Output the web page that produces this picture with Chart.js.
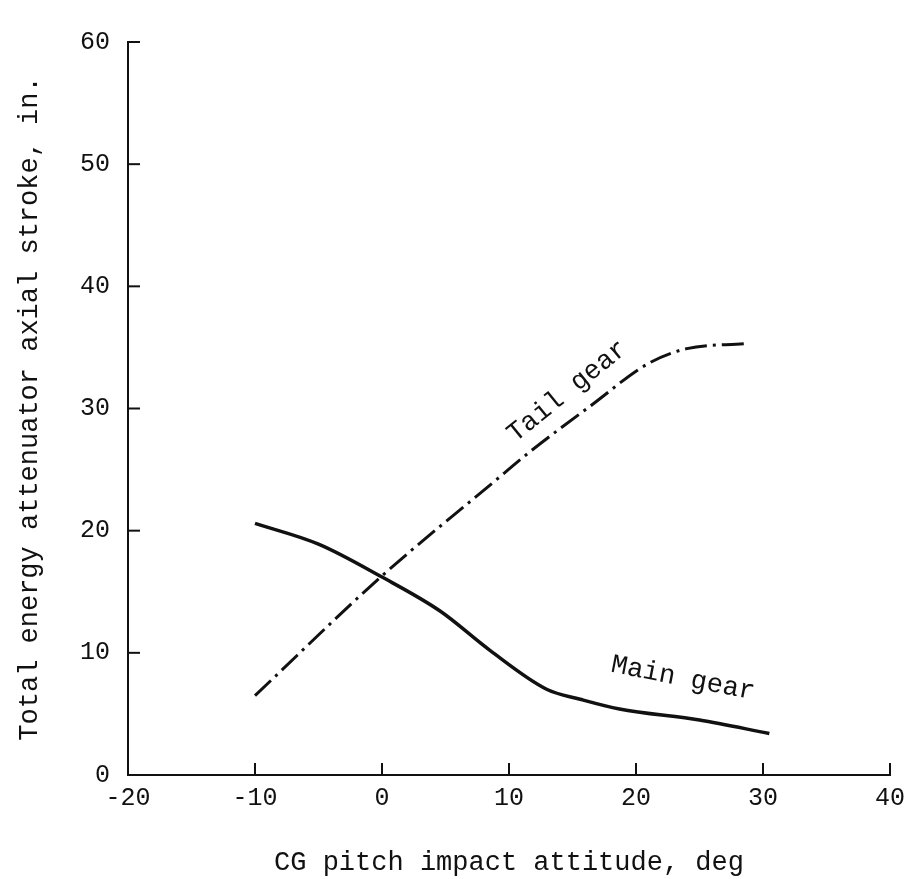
<!DOCTYPE html>
<html>
<head>
<meta charset="utf-8">
<script src="https://cdn.jsdelivr.net/npm/chart.js@4"></script>
<style>
  html, body { margin: 0; padding: 0; background: #fff; }
  #wrap { width: 909px; height: 879px; }
</style>
</head>
<body>
<div id="wrap"><canvas id="c"></canvas></div>
<script>
// values
const mainX = [-10, -5, 0, 4.6, 8.5, 13, 15.6, 18.7, 25, 30.5]
const mainY = [20.6, 18.9, 16.2, 13.4, 10.2, 7.0, 6.2, 5.4, 4.5, 3.4]
const tailX = [-10, 0, 8.7, 11.7, 16.4, 21, 24, 28.6]
const tailY = [6.5, 16.3, 23.9, 26.5, 30.2, 33.7, 34.9, 35.3]
const xTicks = [-20, -10, 0, 10, 20, 30, 40]
const yTicks = [0, 10, 20, 30, 40, 50, 60]

const mono = 'Liberation Mono'
const ink = '#111'

// inward tick marks and curve labels
const extras = {
    id: 'extras',
    afterDatasetsDraw: (chart) => {
        const {ctx, scales: {x, y}} = chart
        ctx.save()
        ctx.strokeStyle = ink
        ctx.lineWidth = 2
        xTicks.forEach(v => {
            if (v === -20) return
            const px = x.getPixelForValue(v)
            ctx.beginPath()
            ctx.moveTo(px, y.bottom)
            ctx.lineTo(px, y.bottom - 12)
            ctx.stroke()
        })
        yTicks.forEach(v => {
            if (v === 0) return
            const py = y.getPixelForValue(v)
            ctx.beginPath()
            ctx.moveTo(x.left, py)
            ctx.lineTo(x.left + 12, py)
            ctx.stroke()
        })
        ctx.fillStyle = ink
        ctx.font = `27px "${mono}"`
        ctx.textAlign = 'center'
        ctx.textBaseline = 'middle'
        const label = (text, vx, vy, deg) => {
            ctx.save()
            ctx.translate(x.getPixelForValue(vx), y.getPixelForValue(vy))
            ctx.rotate(deg * Math.PI / 180)
            ctx.fillText(text, 0, 0)
            ctx.restore()
        }
        label('Tail gear', 14.6, 31.4, -39)
        label('Main gear', 23.7, 7.9, 11)
        ctx.restore()
    }
}

new Chart(document.getElementById('c'), {
    type: 'line',
    data: {
        datasets: [{
            label: 'Main gear',
            data: mainX.map((v, i) => ({x: v, y: mainY[i]})),
            borderColor: ink,
            borderWidth: 3.5,
            pointRadius: 0,
            cubicInterpolationMode: 'monotone'
        }, {
            label: 'Tail gear',
            data: tailX.map((v, i) => ({x: v, y: tailY[i]})),
            borderColor: ink,
            borderWidth: 3,
            borderDash: [22, 6, 3, 6],
            pointRadius: 0,
            cubicInterpolationMode: 'monotone'
        }]
    },
    options: {
        responsive: true,
        maintainAspectRatio: false,
        animation: false,
        layout: {padding: {top: 42, right: 19, left: 0, bottom: 0}},
        plugins: {
            legend: {display: false},
            tooltip: {enabled: false}
        },
        scales: {
            x: {
                type: 'linear',
                min: -20,
                max: 40,
                afterBuildTicks: s => { s.ticks = xTicks.map(v => ({value: v})) },
                afterFit: s => { s.height = 104 },
                grid: {display: false},
                border: {display: true, color: ink, width: 2},
                ticks: {color: ink, font: {family: mono, size: 25}, padding: 0, maxRotation: 0},
                title: {
                    display: true,
                    text: 'CG pitch impact attitude, deg',
                    color: ink,
                    font: {family: mono, size: 27},
                    padding: {top: 26, bottom: 0}
                }
            },
            y: {
                type: 'linear',
                min: 0,
                max: 60,
                afterBuildTicks: s => { s.ticks = yTicks.map(v => ({value: v})) },
                afterFit: s => { s.width = 128 },
                grid: {display: false},
                border: {display: true, color: ink, width: 2},
                ticks: {color: ink, font: {family: mono, size: 25}, padding: 10},
                title: {
                    display: true,
                    text: 'Total energy attenuator axial stroke, in.',
                    color: ink,
                    font: {family: mono, size: 27},
                    padding: {top: 14, bottom: 0}
                }
            }
        }
    },
    plugins: [extras]
})
</script>
</body>
</html>
